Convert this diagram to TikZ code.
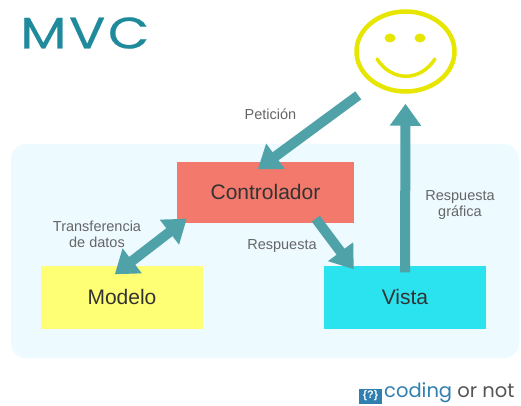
\documentclass[tikz,border=0pt]{standalone}
\usepackage{fontspec}
\setmainfont{Liberation Sans}
\newfontfamily\titlefont[LetterSpace=6,FakeStretch=1.22,FakeBold=0.5]{Poppins}
\newfontfamily\logofont{Poppins}
\usetikzlibrary{arrows.meta,shapes.geometric}
\definecolor{panelblue}{HTML}{EDFAFF}
\definecolor{ctrlred}{HTML}{F2796B}
\definecolor{modelyellow}{HTML}{FFFF75}
\definecolor{viewcyan}{HTML}{2BE3EE}
\definecolor{arrowteal}{HTML}{4FA3A8}
\definecolor{titleteal}{HTML}{1F8A9B}
\definecolor{faceyellow}{HTML}{E6E600}
\definecolor{logoblue}{HTML}{2F7FB0}
\definecolor{logogray}{HTML}{555555}
\tikzset{
    box/.style={minimum width=162pt, minimum height=63pt, inner sep=0pt, font=\fontsize{21}{24}\selectfont, text=black!80},
    note/.style={align=center, text=black!60, inner sep=0pt, font=\fontsize{14.5}{16}\selectfont},
    link/.style={draw=arrowteal, line width=10pt, -{Triangle[width=30pt,length=22pt]}},
    biglink/.style={link, {Triangle[width=30pt,length=22pt]}-{Triangle[width=30pt,length=22pt]}},
}
\begin{document}
\begin{tikzpicture}[x=1pt,y=-1pt]
    \useasboundingbox (0,0) rectangle (521,406);
    \fill[panelblue, rounded corners=15pt] (11,144) rectangle (519,358);

    \node[anchor=west, inner sep=0pt, text=titleteal, font=\fontsize{44}{44}\selectfont\titlefont] (title) at (20,33) {MVC};

    \node[box, fill=ctrlred, minimum width=177pt, minimum height=61pt] (controlador) at (265.5,192) {Controlador};
    \node[box, fill=modelyellow] (modelo) at (122,297) {Modelo};
    \node[box, fill=viewcyan] (vista) at (405,297) {Vista};

    % usuario
    \node[draw=faceyellow, line width=4.5pt, ellipse, minimum width=98pt, minimum height=80pt, inner sep=0pt] (cara) at (405.5,51.5) {};
    \fill[faceyellow] (390,38) ellipse (5.5pt and 4.5pt);
    \fill[faceyellow] (420,38) ellipse (5.5pt and 4.5pt);
    \draw[faceyellow, line width=3.5pt, line cap=round] (377,59) .. controls (392,82) and (420,82) .. (435,59);

    \draw[link] ([xshift=-11pt,yshift=-14pt]cara.south west) -- ([xshift=81pt,yshift=-8pt]controlador.north west);
    \draw[link] ([xshift=139pt,yshift=4pt]controlador.south west) -- ([xshift=30pt,yshift=-4pt]vista.north west);
    \draw[link] ([yshift=-7pt]vista.north) -- ([yshift=-10pt]cara.south);
    \draw[biglink] ([xshift=10pt,yshift=4pt]controlador.south west) -- ([xshift=74pt,yshift=-9pt]modelo.north west);

    \node[note] (peticion) at (270.5,114) {Petición};
    \node[note] (transferencia) at (97,234.5) {Transferencia\\de datos};
    \node[note] (respuesta) at (282,246) {Respuesta};
    \node[note] (grafica) at (460,205) {Respuesta\\gráfica};

    \node[fill=logoblue, text=white, inner sep=0pt, minimum width=23pt, minimum height=15pt, font=\fontsize{11}{11}\selectfont\bfseries] (logo) at (370.5,396) {\{?\}};
    \node[anchor=west, inner sep=0pt, font=\fontsize{19.5}{20}\selectfont\logofont] (marca) at (384,393) {\textcolor{logoblue}{coding} \textcolor{logogray}{or not}};
\end{tikzpicture}
\end{document}
